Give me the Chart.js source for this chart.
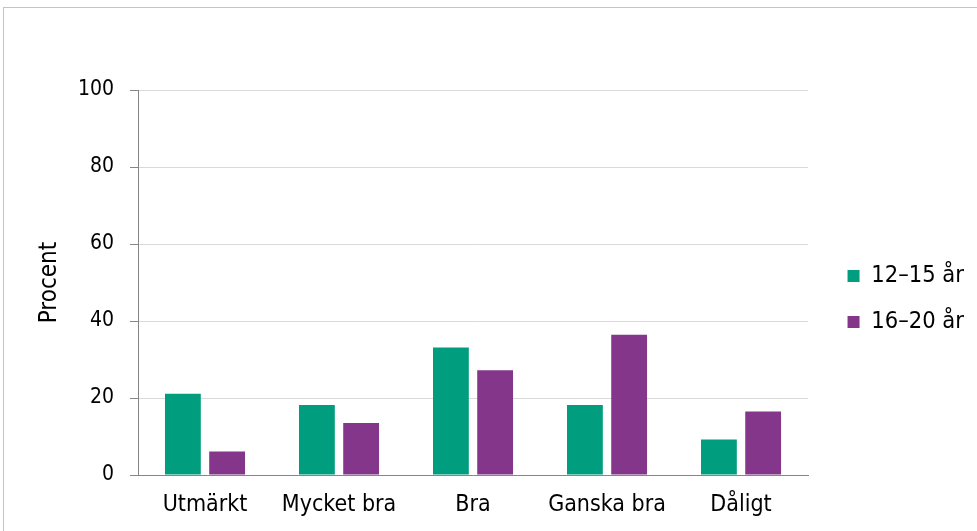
<!DOCTYPE html>
<html>
<head>
<meta charset="utf-8">
<script src="https://cdn.jsdelivr.net/npm/chart.js@4"></script>
<style>
  html, body { margin: 0; padding: 0; background: #fff; }
  #wrap { position: relative; width: 977px; height: 531px; }
  #frame { position: absolute; left: 3px; top: 7px; width: 1000px; height: 600px;
           border: 1px solid #c4c4c4; pointer-events: none; }
</style>
</head>
<body>
<div id="wrap">
  <canvas id="myChart" width="977" height="531"></canvas>
  <div id="frame"></div>
</div>
<script>
const categories = ['Utmärkt', 'Mycket bra', 'Bra', 'Ganska bra', 'Dåligt'];
const seriesNames = ['12–15 år', '16–20 år'];
const young = [21.1, 18.2, 33.1, 18.2, 9.2];
const older = [6.1, 13.5, 27.2, 36.4, 16.5];
const yTicks = [0, 20, 40, 60, 80, 100];

const family = '"DejaVu Sans Condensed", "Liberation Sans", sans-serif';

// empty axes used only to push the plot area away from the legend / top edge
const spacer = (pos, size) => ({
  position: pos,
  grid: { display: false, drawTicks: false },
  border: { display: false },
  ticks: { display: false },
  afterFit: s => { if (pos === 'top') s.height = size; else s.width = size; }
});

const ctx = document.getElementById('myChart').getContext('2d');
const myChart = new Chart(ctx, {
  type: 'bar',
  data: {
    labels: categories,
    datasets: [{
      label: seriesNames[0],
      data: young,
      backgroundColor: '#009E7E',
      categoryPercentage: 0.66,
      barPercentage: 0.81
    }, {
      label: seriesNames[1],
      data: older,
      backgroundColor: '#84378A',
      categoryPercentage: 0.66,
      barPercentage: 0.81
    }]
  },
  options: {
    responsive: false,
    animation: false,
    layout: { padding: { left: 35, right: 3, top: 67, bottom: 0 } },
    plugins: {
      tooltip: { enabled: false },
      legend: {
        position: 'right',
        labels: {
          color: '#000',
          font: { family: family, size: 23.5 },
          boxWidth: 12,
          boxHeight: 12,
          padding: 22.5
        }
      }
    },
    scales: {
      x: {
        afterFit: s => { s.height = 56; },
        grid: { display: false, drawTicks: false },
        border: { color: '#868686', width: 1 },
        ticks: { color: '#000', font: { family: family, size: 23 }, padding: 16 }
      },
      y: {
        min: 0,
        max: 100,
        afterBuildTicks: s => { s.ticks = yTicks.map(v => ({ value: v })); },
        afterFit: s => { s.width = 103; },
        grid: { color: '#d9d9d9', tickColor: '#868686', tickLength: 8 },
        border: { color: '#868686', width: 1 },
        ticks: { color: '#000', font: { family: family, size: 21 }, padding: 16 },
        title: { display: true, text: 'Procent', color: '#000',
                 font: { family: family, size: 24 }, padding: { top: 0, bottom: 0 } }
      },
      gapRight: spacer('right', 17),
      gapTop: spacer('top', 23)
    }
  }
});
</script>
</body>
</html>
